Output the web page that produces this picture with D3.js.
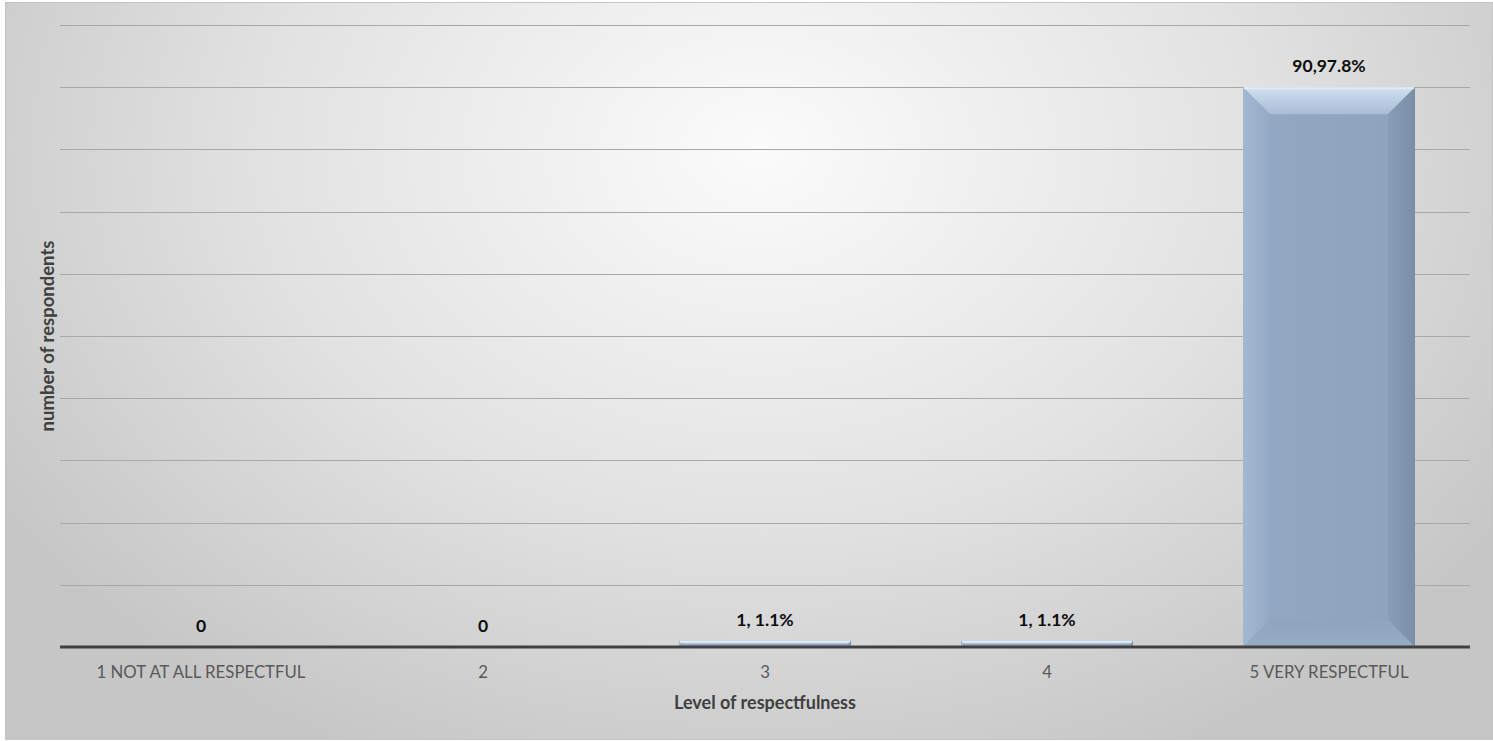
<!DOCTYPE html>
<html>
<head>
<meta charset="utf-8">
<script src="https://cdn.jsdelivr.net/npm/d3@7"></script>
<style>
  html, body { margin: 0; padding: 0; background: #ffffff; }
  svg { display: block; }
</style>
</head>
<body>
<div id="chart"></div>
<script>
// Survey responses: how respectful respondents found the treatment
const categories = ["1 NOT AT ALL RESPECTFUL", "2", "3", "4", "5 VERY RESPECTFUL"];
const counts = [0, 0, 1, 1, 90];
const valueLabels = ["0", "0", "1, 1.1%", "1, 1.1%", "90,97.8%"];
const yTicks = [0, 10, 20, 30, 40, 50, 60, 70, 80, 90, 100];

const W = 1493, H = 741;
const margin = { left: 60, right: 23, top: 25, bottom: 94 };
const FONT = "Lato, 'Open Sans', sans-serif";

const svg = d3.select("#chart").append("svg")
  .attr("width", W).attr("height", H);

const defs = svg.append("defs");

// Soft grey backdrop, brightest near the upper middle
const bg = defs.append("radialGradient").attr("id", "bg")
  .attr("gradientUnits", "userSpaceOnUse")
  .attr("cx", 760).attr("cy", 150).attr("r", 900)
  .attr("gradientTransform", "translate(760,150) scale(1,0.75) translate(-760,-150)");
bg.append("stop").attr("offset", "0").attr("stop-color", "#fbfbfb");
bg.append("stop").attr("offset", "0.55").attr("stop-color", "#e2e2e2");
bg.append("stop").attr("offset", "1").attr("stop-color", "#c6c6c6");

svg.append("rect")
  .attr("x", 5.5).attr("y", 2.5).attr("width", W - 6).attr("height", H - 4)
  .attr("fill", "url(#bg)").attr("stroke", "#c4c4c4").attr("stroke-width", 1);

const x = d3.scaleBand()
  .domain(categories)
  .range([margin.left, W - margin.right])
  .paddingInner(0.39).paddingOuter(0.195);

const y = d3.scaleLinear()
  .domain([0, 100])
  .range([H - margin.bottom, margin.top]);

// Horizontal gridlines
svg.append("g")
  .selectAll("line")
  .data(yTicks.filter(d => d > 0))
  .join("line")
  .attr("x1", margin.left).attr("x2", W - margin.right)
  .attr("y1", d => Math.round(y(d)) + 0.5).attr("y2", d => Math.round(y(d)) + 0.5)
  .attr("stroke", "#a8a8a8").attr("stroke-width", 1);

// Bevelled bars
const bevel = 27;
const grad = (id, dir, stops) => {
  const g = defs.append("linearGradient").attr("id", id)
    .attr("x1", dir[0]).attr("y1", dir[1]).attr("x2", dir[2]).attr("y2", dir[3]);
  stops.forEach(([o, c]) => g.append("stop").attr("offset", o).attr("stop-color", c));
};
grad("barFill", [0, 0, 1, 0], [[0, "#93a8c4"], [1, "#8ea2bb"]]);
grad("bevTop", [0, 0, 0, 1], [[0, "#d2e0f0"], [1, "#a9bcd6"]]);
grad("bevLeft", [0, 0, 1, 0], [[0, "#a3b8d3"], [1, "#95a9c5"]]);
grad("bevRight", [0, 0, 1, 0], [[0, "#8a9db7"], [1, "#7b8ea8"]]);
grad("bevBottom", [0, 0, 0, 1], [[0, "#91a4bd"], [1, "#98abc4"]]);

const bars = svg.append("g").selectAll("g")
  .data(categories.map((c, i) => ({ c, v: counts[i] })).filter(d => d.v > 0))
  .join("g");

bars.each(function (d) {
  const g = d3.select(this);
  const x0 = x(d.c), x1 = x0 + x.bandwidth();
  const y0 = y(d.v), y1 = y(0);
  const b = Math.min(bevel, (y1 - y0) / 2, x.bandwidth() / 2);
  g.append("rect").attr("x", x0).attr("y", y0)
    .attr("width", x1 - x0).attr("height", y1 - y0)
    .attr("fill", "url(#barFill)");
  const poly = (pts, fill) => g.append("polygon")
    .attr("points", pts.map(p => p.join(",")).join(" "))
    .attr("fill", fill);
  poly([[x0, y0], [x1, y0], [x1 - b, y0 + b], [x0 + b, y0 + b]], "url(#bevTop)");
  poly([[x0, y0], [x0 + b, y0 + b], [x0 + b, y1 - b], [x0, y1]], "url(#bevLeft)");
  poly([[x1, y0], [x1, y1], [x1 - b, y1 - b], [x1 - b, y0 + b]], "url(#bevRight)");
  poly([[x0, y1], [x0 + b, y1 - b], [x1 - b, y1 - b], [x1, y1]], "url(#bevBottom)");
  // thin highlight along the top edge
  g.append("rect").attr("x", x0 + 1).attr("y", y0)
    .attr("width", x1 - x0 - 2).attr("height", Math.min(2, y1 - y0))
    .attr("fill", "#e2ecf7").attr("opacity", 0.9);
});

// Baseline axis
const xAxis = svg.append("g")
  .attr("transform", `translate(0,${y(0)})`)
  .call(d3.axisBottom(x).tickSize(0).tickPadding(0));
xAxis.select(".domain").attr("stroke", "#404040").attr("stroke-width", 3)
  .attr("d", `M${margin.left},0H${W - margin.right}`);
xAxis.selectAll("text")
  .attr("dy", null)
  .attr("y", 31)
  .attr("fill", "#595959")
  .style("font-family", FONT)
  .style("font-size", "16.8px");

// Value labels
svg.append("g").selectAll("text")
  .data(categories)
  .join("text")
  .attr("x", d => x(d) + x.bandwidth() / 2)
  .attr("y", (d, i) => y(counts[i]) - 15)
  .attr("text-anchor", "middle")
  .attr("fill", "#0d0d0d")
  .style("font-family", FONT)
  .style("font-weight", "bold")
  .style("font-size", "17.5px")
  .text((d, i) => valueLabels[i]);

// Axis titles
svg.append("text")
  .attr("x", (margin.left + W - margin.right) / 2)
  .attr("y", 709)
  .attr("text-anchor", "middle")
  .attr("fill", "#404040")
  .style("font-family", FONT)
  .style("font-weight", "bold")
  .style("font-size", "18px")
  .text("Level of respectfulness");

svg.append("text")
  .attr("transform", `translate(54,${(y(0) + y(100)) / 2}) rotate(-90)`)
  .attr("text-anchor", "middle")
  .attr("fill", "#404040")
  .style("font-family", FONT)
  .style("font-weight", "bold")
  .style("font-size", "18.5px")
  .text("number of respondents");
</script>
</body>
</html>
